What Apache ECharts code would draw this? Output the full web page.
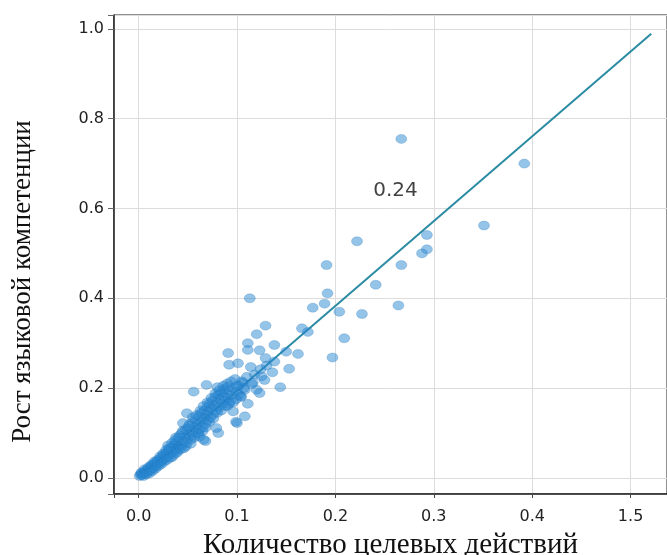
<!DOCTYPE html>
<html>
<head>
<meta charset="utf-8">
<script src="https://cdn.jsdelivr.net/npm/echarts@6/dist/echarts.min.js"></script>
<style>
html,body{margin:0;padding:0;background:#fff;}
#chart{width:667px;height:555px;}
</style>
</head>
<body>
<div id="chart"></div>
<script>
// ---- data ----
var xTickLabels = ['0.0', '0.1', '0.2', '0.3', '0.4', '1.5'];
var yTickLabels = ['0.0', '0.2', '0.4', '0.6', '0.8', '1.0'];
var xName = 'Количество целевых действий';
var yName = 'Рост языковой компетенции';

// dense band of observations
var bandPoints = [
  [0.002,0.008],[0.003,0.006],[0.004,0.011],[0.005,0.009],[0.006,0.014],[0.007,0.012],[0.008,0.017],[0.009,0.013],[0.010,0.020],[0.011,0.016],
  [0.012,0.024],[0.013,0.019],[0.014,0.028],[0.015,0.022],[0.016,0.031],[0.017,0.026],[0.018,0.035],[0.019,0.029],[0.020,0.038],[0.021,0.033],
  [0.022,0.042],[0.023,0.036],[0.024,0.047],[0.025,0.040],[0.026,0.052],[0.027,0.044],[0.028,0.055],[0.029,0.048],[0.030,0.060],[0.031,0.051],
  [0.032,0.064],[0.033,0.055],[0.034,0.069],[0.035,0.058],[0.036,0.073],[0.037,0.062],[0.038,0.077],[0.039,0.066],[0.040,0.082],[0.041,0.070],
  [0.030,0.072],[0.034,0.046],[0.038,0.090],[0.040,0.060],[0.042,0.095],[0.044,0.072],[0.045,0.105],[0.046,0.080],[0.047,0.092],[0.048,0.070],
  [0.050,0.110],[0.050,0.088],[0.051,0.098],[0.052,0.120],[0.053,0.085],[0.054,0.105],[0.055,0.125],[0.056,0.095],[0.057,0.113],[0.058,0.130],[0.059,0.100],[0.060,0.118],
  [0.061,0.138],[0.062,0.108],[0.063,0.125],[0.064,0.145],[0.065,0.112],[0.066,0.132],[0.067,0.150],[0.068,0.120],[0.069,0.140],[0.070,0.158],[0.070,0.128],
  [0.071,0.148],[0.072,0.165],[0.073,0.135],[0.074,0.155],[0.075,0.172],[0.076,0.142],[0.077,0.162],[0.078,0.180],[0.079,0.150],[0.080,0.168],
  [0.081,0.185],[0.082,0.158],[0.083,0.175],[0.084,0.190],[0.085,0.165],[0.086,0.182],[0.087,0.198],[0.088,0.172],[0.089,0.188],[0.090,0.160],
  [0.091,0.178],[0.092,0.195],[0.093,0.170],[0.095,0.185],[0.097,0.200],[0.099,0.175],[0.100,0.192],[0.102,0.205],[0.104,0.182],[0.106,0.212],
  [0.105,0.215],[0.110,0.225],[0.118,0.230],[0.125,0.226],[0.130,0.250],[0.108,0.196],[0.116,0.212],
  [0.001,0.004],[0.003,0.012],[0.005,0.004],[0.006,0.019],[0.008,0.008],[0.010,0.024],[0.011,0.010],[0.013,0.029],[0.014,0.015],[0.016,0.036],
  [0.017,0.020],[0.019,0.040],[0.020,0.026],[0.022,0.048],[0.023,0.030],[0.025,0.054],[0.026,0.036],[0.028,0.062],[0.029,0.040],[0.031,0.066],
  [0.032,0.045],[0.034,0.078],[0.036,0.052],[0.037,0.084],[0.039,0.056],[0.041,0.090],[0.043,0.064],[0.044,0.100],[0.046,0.066],[0.048,0.108],
  [0.049,0.078],[0.051,0.115],[0.053,0.076],[0.055,0.135],[0.057,0.090],[0.059,0.140],[0.061,0.098],[0.063,0.150],[0.065,0.104],[0.066,0.160],
  [0.068,0.112],[0.070,0.168],[0.072,0.125],[0.074,0.178],[0.076,0.132],[0.078,0.188],[0.080,0.145],[0.082,0.195],[0.084,0.150],[0.086,0.205],
  [0.088,0.160],[0.090,0.210],[0.092,0.165],[0.094,0.215],[0.096,0.168],[0.098,0.220],[0.102,0.185],[0.107,0.200]
];
// scattered observations around the band
var spreadPoints = [
  [0.056,0.192],[0.069,0.207],[0.080,0.202],[0.091,0.203],[0.049,0.144],[0.045,0.122],[0.068,0.082],[0.062,0.092],
  [0.081,0.100],[0.096,0.148],[0.099,0.125],[0.108,0.137],[0.079,0.111],[0.066,0.085],[0.100,0.205],
  [0.197,0.268],[0.091,0.278],[0.111,0.300],[0.111,0.285],[0.123,0.284],[0.138,0.296],[0.150,0.281],[0.162,0.276],
  [0.138,0.259],[0.129,0.267],[0.114,0.247],[0.101,0.255],[0.092,0.252],[0.124,0.242],[0.136,0.235],[0.153,0.243],
  [0.128,0.218],[0.144,0.202],[0.120,0.196],[0.111,0.165],[0.104,0.180],[0.100,0.122],[0.115,0.209],[0.123,0.189]
];
// outlying observations
var outlierPoints = [
  [0.267,0.755],[0.392,0.700],[0.351,0.562],[0.293,0.541],[0.293,0.509],[0.288,0.500],[0.267,0.474],[0.222,0.527],
  [0.241,0.430],[0.264,0.384],[0.227,0.365],[0.204,0.370],[0.209,0.311],[0.191,0.474],[0.192,0.411],[0.189,0.388],
  [0.177,0.379],[0.113,0.400],[0.129,0.339],[0.120,0.320],[0.166,0.333],[0.172,0.325]
];
// fitted line
var fitLine = [[0.0, 0.005], [0.521, 0.989]];
// annotation
var annotation = [[0.261, 0.640, '0.24']];

var chart = echarts.init(document.getElementById('chart'), null, {renderer: 'canvas'});

var pointStyle = {
  color: 'rgba(40,136,210,0.62)',
  borderColor: 'rgba(30,108,175,0.5)',
  borderWidth: 0.6
};

function tickFormatter(labels, step) {
  return function (v) {
    var n = Number(v);
    var k = Math.round(n / step);
    if (Math.abs(n - k * step) > 1e-6 || k < 0 || k >= labels.length) return '';
    return labels[k];
  };
}

chart.setOption({
  animation: false,
  backgroundColor: '#fff',
  grid: {
    left: 114, right: 0, top: 15, bottom: 61,
    containLabel: false, outerBoundsMode: 'none',
    show: true, borderColor: '#222', borderWidth: 1
  },
  xAxis: {
    type: 'value',
    min: -0.025, max: 0.537, splitNumber: 5,
    name: xName,
    nameLocation: 'middle',
    nameGap: 37,
    nameTextStyle: {fontFamily: 'Liberation Serif', fontSize: 29, color: '#111'},
    axisLine: {show: true, onZero: false, lineStyle: {color: '#222', width: 1.5}},
    axisTick: {show: true, length: 4, lineStyle: {color: '#444'}},
    axisLabel: {
      show: true,
      margin: 15, fontFamily: 'DejaVu Sans', fontSize: 16, color: '#222',
      formatter: tickFormatter(xTickLabels, 0.1)
    },
    splitLine: {show: true, lineStyle: {color: '#dcdcdc', width: 1}}
  },
  yAxis: {
    type: 'value',
    min: -0.036, max: 1.031, splitNumber: 5,
    name: yName,
    nameLocation: 'middle',
    nameGap: 78,
    nameTextStyle: {fontFamily: 'Liberation Serif', fontSize: 27, color: '#111', padding: [0, 54, 0, 0]},
    axisLine: {show: true, onZero: false, lineStyle: {color: '#222', width: 1.5}},
    axisTick: {show: true, length: 6, lineStyle: {color: '#666'}},
    axisLabel: {
      show: true,
      margin: 10, fontFamily: 'DejaVu Sans', fontSize: 16, color: '#222',
      formatter: tickFormatter(yTickLabels, 0.2)
    },
    splitLine: {show: true, lineStyle: {color: '#dcdcdc', width: 1}}
  },
  series: [
    {
      type: 'line', data: fitLine, showSymbol: false, symbol: 'none',
      lineStyle: {color: '#2b8ba3', width: 2}, z: 2, silent: true
    },
    {
      type: 'scatter', data: bandPoints, symbol: 'circle', symbolSize: [11, 9],
      itemStyle: pointStyle, z: 3
    },
    {
      type: 'scatter', data: spreadPoints, symbol: 'circle', symbolSize: [11, 9],
      itemStyle: pointStyle, z: 3
    },
    {
      type: 'scatter', data: outlierPoints, symbol: 'circle', symbolSize: [11, 9],
      itemStyle: pointStyle, z: 3
    },
    {
      type: 'scatter', data: annotation, symbolSize: 0, z: 4,
      label: {
        show: true, position: 'inside',
        formatter: function (p) { return p.data[2]; },
        fontFamily: 'DejaVu Sans', fontSize: 20, color: '#111'
      }
    }
  ]
});
</script>
</body>
</html>
